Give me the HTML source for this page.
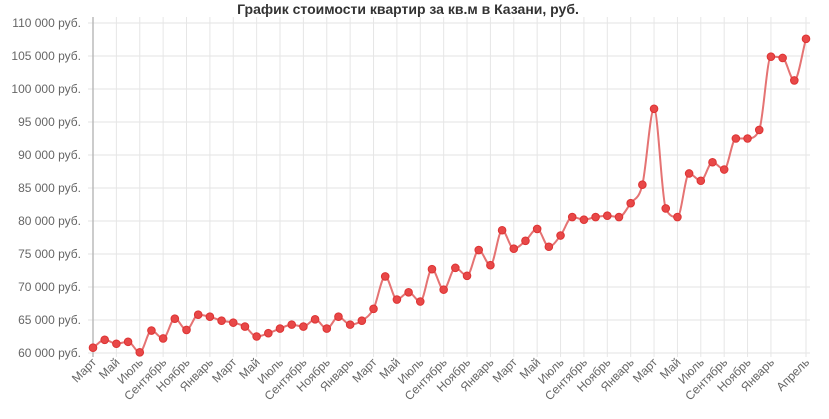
<!DOCTYPE html>
<html><head><meta charset="utf-8">
<style>
html,body{margin:0;padding:0;background:#fff;}
svg{display:block;font-family:"Liberation Sans",Arial,sans-serif;}
</style></head>
<body>
<svg id="chart" width="829" height="419" viewBox="0 0 829 419" xmlns="http://www.w3.org/2000/svg">
<text x="408" y="14" text-anchor="middle" font-size="14" font-weight="bold" fill="#333">График стоимости квартир за кв.м в Казани, руб.</text>
<g id="grid"></g><g id="yaxis"></g><g id="xaxis"></g><g id="series"></g>
</svg>
<script>
const values = [60800,62000,61400,61700,60100,63400,62200,65200,63500,65800,65500,64900,64600,64000,62500,63000,63700,64300,64000,65100,63700,65500,64300,64900,66700,71600,68100,69200,67800,72700,69600,72900,71700,75600,73300,78600,75800,77000,78800,76100,77800,80600,80200,80600,80800,80600,82700,85500,97000,81900,80600,87200,86100,88900,87800,92500,92500,93800,104900,104700,101300,107600];
const monthNames = ["Март","Май","Июль","Сентябрь","Ноябрь","Январь"];
const yTicks = [60000,65000,70000,75000,80000,85000,90000,95000,100000,105000,110000];
const NS="http://www.w3.org/2000/svg";
const X0=93,X1=806,Y0=353,Y1=23,YMIN=60000,YMAX=110000;
const n=values.length;
const xs=i=>X0+(X1-X0)*i/(n-1);
const ys=v=>Y0-(v-YMIN)/(YMAX-YMIN)*(Y0-Y1);
function mk(tag,attrs,parent){const e=document.createElementNS(NS,tag);for(const k in attrs)e.setAttribute(k,attrs[k]);parent.appendChild(e);return e;}
const grid=document.getElementById('grid'),yax=document.getElementById('yaxis'),xax=document.getElementById('xaxis'),ser=document.getElementById('series');
function fmt(v){return String(v).replace(/\B(?=(\d{3})+(?!\d))/g,' ')+' руб.';}
yTicks.forEach(v=>{
  const l=mk('line',{x1:X0-5,x2:810,y1:ys(v),y2:ys(v),stroke:'#e3e3e3','stroke-width':1},grid);
  
  
  const t=mk('text',{x:X0-12,y:ys(v)+4,'text-anchor':'end','font-size':12,fill:'#666'},yax);
  t.textContent=fmt(v);
  
  
});
const labelIdx=[];const labels=[];
for(let i=0;i<n-3;i+=2){labelIdx.push(i);labels.push(monthNames[(i/2)%6]);}
labelIdx.push(n-1);labels.push("Апрель");
labelIdx.forEach((i,k)=>{
  const x=xs(i);
  const l=mk('line',{x1:x,x2:x,y1:17,y2:Y0+4,stroke:'#e6e6e6','stroke-width':1},grid);
  
  
  const t=mk('text',{x:x+4,y:Y0+10,'text-anchor':'end','font-size':12,fill:'#666',transform:`rotate(-45 ${x+4} ${Y0+10})`},xax);
  t.textContent=labels[k];
  
  
});
const ax=mk('line',{x1:X0,x2:X0,y1:17,y2:Y0+4,stroke:'#bbb','stroke-width':1.5},grid);


// monotone cubic line
const pts=values.map((v,i)=>[xs(i),ys(v)]);
const dx=[],sl=[];
for(let i=0;i<n-1;i++){dx.push(pts[i+1][0]-pts[i][0]);sl.push((pts[i+1][1]-pts[i][1])/dx[i]);}
const m=[sl[0]];
for(let i=1;i<n-1;i++){m.push(sl[i-1]*sl[i]<=0?0:(sl[i-1]+sl[i])/2);}
m.push(sl[n-2]);
for(let i=0;i<n-1;i++){
  if(sl[i]===0){m[i]=0;m[i+1]=0;continue;}
  const a=m[i]/sl[i],b=m[i+1]/sl[i],s=a*a+b*b;
  if(s>9){const tt=3/Math.sqrt(s);m[i]=tt*a*sl[i];m[i+1]=tt*b*sl[i];}
}
let d=`M${pts[0][0]},${pts[0][1]}`;
for(let i=0;i<n-1;i++){
  const h=dx[i]/3;
  d+=` C${pts[i][0]+h},${pts[i][1]+m[i]*h} ${pts[i+1][0]-h},${pts[i+1][1]-m[i+1]*h} ${pts[i+1][0]},${pts[i+1][1]}`;
}
const path=mk('path',{d:d,fill:'none',stroke:'#e57373','stroke-width':2},ser);


pts.forEach(p=>{
  const c=mk('circle',{cx:p[0],cy:p[1],r:3.8,fill:'#e84848',stroke:'#d33','stroke-width':1},ser);
  
  
});
</script>
</body></html>
